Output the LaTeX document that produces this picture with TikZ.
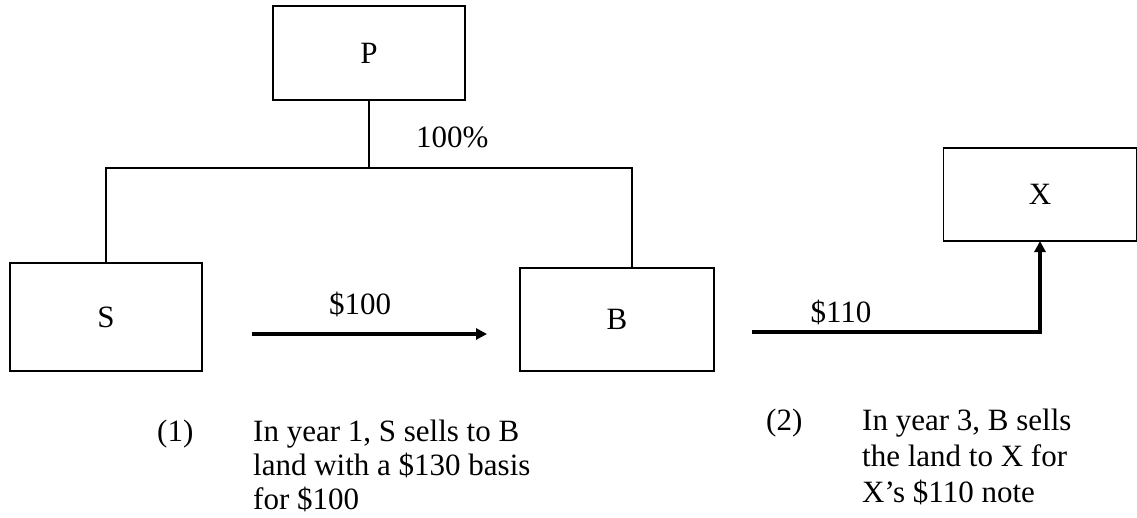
\documentclass[tikz,border=0pt]{standalone}
\usepackage{fontspec}
\setmainfont{Liberation Serif}
\usetikzlibrary{arrows.meta,calc}
\begin{document}
\begin{tikzpicture}[x=1pt,y=-1pt,
  box/.style={draw, line width=1.6pt, inner sep=0pt, outer sep=0pt, font=\fontsize{31}{34.5}\selectfont},
  tree/.style={line width=1.6pt},
  flow/.style={line width=4.5pt, -{Triangle[length=11pt,width=11pt]}},
  lbl/.style={inner sep=0pt, font=\fontsize{31}{34.5}\selectfont},
  note/.style={inner sep=0pt, align=left, anchor=base west}]
\useasboundingbox (0,0) rectangle (1137,517);
% boxes
\node[box, minimum width=192pt, minimum height=94pt] (P) at (369,53) {P};
\node[box, minimum width=192pt, minimum height=108pt] (S) at (106,317) {S};
\node[box, minimum width=194pt, minimum height=103pt] (B) at (617,319.5) {B};
\node[box, minimum width=193pt, minimum height=93pt] (X) at (1040,194.5) {X};
% ownership tree
\coordinate (J) at (369,168);
\coordinate (Bt) at ([xshift=15pt]B.north);
\draw[tree] (P.south) -- (J);
\draw[tree] (S.north) |- (J) -| (Bt);
\node[lbl, anchor=base west] (pct) at (416,147) {100\%};
% flows
\coordinate (a1s) at (252,334);
\coordinate (a1e) at (487,334);
\draw[flow] (a1s) -- (a1e);
\node[lbl, anchor=base] (l100) at (360,314) {\$100};
\coordinate (a2s) at (752,332);
\draw[flow] (a2s) -| (X.south);
\node[lbl, anchor=base] (l110) at (841,322) {\$110};
% notes (base anchor = last line)
\node[lbl, anchor=base west] (n1) at (157,441) {(1)};
\node[note, font=\fontsize{31}{34}\selectfont] (t1) at (253,509) {In year 1, S sells to B\\land with a \$130 basis\\for \$100};
\node[lbl, anchor=base west] (n2) at (766,430) {(2)};
\node[note, font=\fontsize{31}{36}\selectfont] (t2) at (862,502) {In year 3, B sells\\the land to X for\\X’s \$110 note};
\end{tikzpicture}
\end{document}
